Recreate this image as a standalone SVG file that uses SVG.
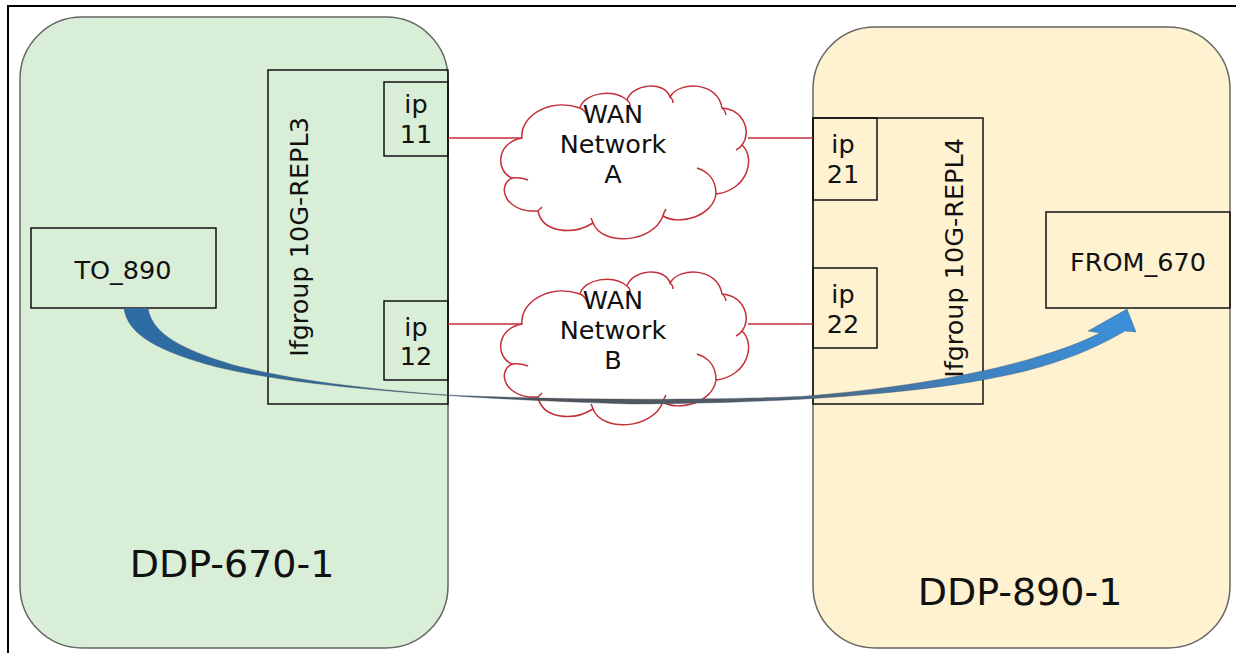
<svg xmlns="http://www.w3.org/2000/svg" xmlns:xlink="http://www.w3.org/1999/xlink" width="1236" height="653" viewBox="0 0 1236 653">
<defs>
<style>
.t{font-family:"DejaVu Sans",Verdana,sans-serif;font-size:25.5px;fill:#111;text-anchor:middle}
.big{font-size:38px}
.box{fill:none;stroke:#111;stroke-width:1.5}
.red{stroke:#c3303a;stroke-width:1.5;fill:none}
.cl{fill:#fff;stroke:#c3303a;stroke-width:1.5}
.hook{fill:none;stroke:#c3303a;stroke-width:1.5}
.dev{stroke:#666;stroke-width:1.5}
</style>
<linearGradient id="ag" gradientUnits="userSpaceOnUse" x1="124" y1="0" x2="1135" y2="0">
<stop offset="0" stop-color="#2d6ca5"/>
<stop offset="0.22" stop-color="#336891"/>
<stop offset="0.42" stop-color="#4e5257"/>
<stop offset="0.62" stop-color="#525d69"/>
<stop offset="0.82" stop-color="#3f80bc"/>
<stop offset="1" stop-color="#3b90da"/>
</linearGradient>
<g id="cloud">
<path class="cl" d="M522,138 C519,118 548,97 580,108 C584,93 613,88 627,100 C632,84 664,80 670,97 C680,80 718,82 722,108 C744,110 752,132 742,145 C756,158 748,190 716,194 C713,216 680,226 663,216 C652,244 602,246 593,223 C572,236 542,232 538,211 C505,213 496,186 512,178 C496,172 495,143 522,138 Z"/>
<path class="hook" d="M580,108 q5,2 7,8 M627,100 q3,2 3,6 M670,97 q3,2 3,6 M722,108 q3,2 4,7 M742,145 q-2,3 -6,5 M716,194 C716,182 710,172 697,168 M663,216 q1,-4 3,-7 M593,223 q-1,-3 -2,-5 M538,211 q2,-2 4,-4 M512,178 q8,-1 16,2"/>
</g>
</defs>
<rect width="1236" height="653" fill="#fff"/>
<path d="M8,653V6H1236" fill="none" stroke="#000" stroke-width="2"/>

<g id="ddp-670-1">
<rect class="dev" x="20" y="17" width="428" height="631" rx="62" ry="62" fill="#d9eed6"/>
<text class="t big" x="232" y="577">DDP-670-1</text>
</g>
<g id="ddp-890-1">
<rect class="dev" x="813" y="27" width="417" height="621" rx="62" ry="62" fill="#fff2d1"/>
<text class="t big" x="1020" y="605">DDP-890-1</text>
</g>

<g id="ifgroup-repl3">
<rect class="box" x="268" y="70" width="180" height="334"/>
<text class="t" transform="translate(308,237) rotate(-90)">Ifgroup 10G-REPL3</text>
</g>
<g id="ip11">
<rect class="box" x="384" y="82" width="64" height="74"/>
<text class="t" x="416" y="113">ip</text>
<text class="t" x="416" y="143">11</text>
</g>
<g id="ip12">
<rect class="box" x="384" y="301" width="64" height="79"/>
<text class="t" x="416" y="336">ip</text>
<text class="t" x="416" y="365">12</text>
</g>

<g id="ifgroup-repl4">
<rect class="box" x="813" y="118" width="170" height="286"/>
<text class="t" transform="translate(963,258) rotate(-90)">Ifgroup 10G-REPL4</text>
</g>
<g id="ip21">
<rect class="box" x="813" y="118" width="64" height="82"/>
<text class="t" x="843" y="153">ip</text>
<text class="t" x="843" y="183">21</text>
</g>
<g id="ip22">
<rect class="box" x="813" y="268" width="64" height="80"/>
<text class="t" x="843" y="303">ip</text>
<text class="t" x="843" y="333">22</text>
</g>

<g id="to-890">
<rect class="box" x="31" y="228" width="185" height="80"/>
<text class="t" x="123" y="279">TO_890</text>
</g>
<g id="from-670">
<rect class="box" x="1046" y="212" width="184" height="96"/>
<text class="t" x="1138" y="271">FROM_670</text>
</g>

<g id="wan-a">
<use xlink:href="#cloud"/>
<text class="t" x="613" y="123">WAN</text>
<text class="t" x="613" y="153">Network</text>
<text class="t" x="613" y="183">A</text>
</g>
<g id="wan-b">
<use xlink:href="#cloud" transform="translate(0,186)"/>
<text class="t" x="613" y="309">WAN</text>
<text class="t" x="613" y="339">Network</text>
<text class="t" x="613" y="369">B</text>
</g>

<g id="connectors">
<path class="red" d="M448,138H522 M748,138H813 M448,324H522 M748,324H813"/>
<path fill="url(#ag)" stroke="#3a4a5a" stroke-width="0.6" stroke-opacity="0.6" d="M124,308 C127,335 160,352 217,367 C280,382 400,397 630,404 C820,403 960,390 1040,367 C1075,357 1105,343 1125,331 L1136,332 L1127,309 L1088,331 L1100,333 C1080,343 1060,350 1040,356 C990,372 900,389 800,396.5 C700,400.5 560,400 448,395 C360,389 280,378 230,364 C185,350 152,335 148,308 Z"/>
</g>
</svg>
